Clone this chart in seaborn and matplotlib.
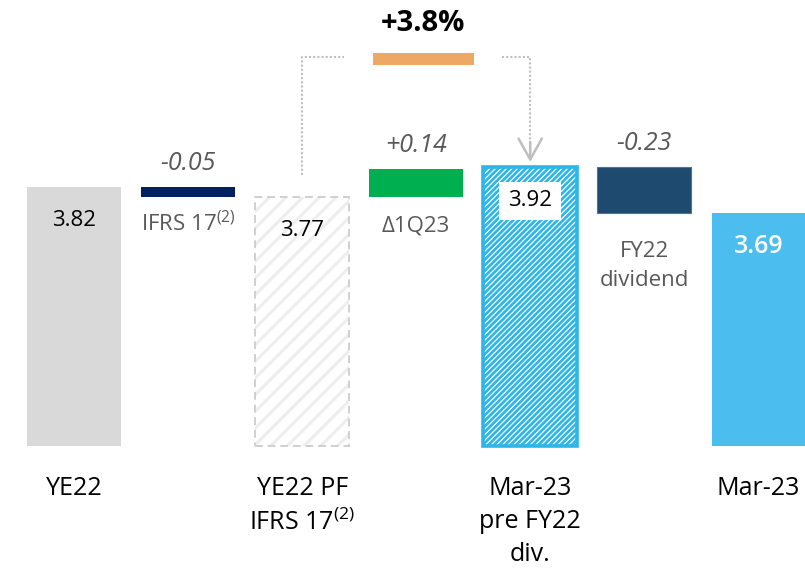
import matplotlib
matplotlib.use("Agg")
import matplotlib.pyplot as plt
import seaborn as sns

# ---- data -------------------------------------------------------------
categories = ["YE22", "IFRS 17", "YE22 PF", "Δ1Q23", "Mar-23 pre", "FY22 dividend", "Mar-23"]
kinds = ["total", "delta", "total", "delta", "total", "delta", "total"]
values = [3.82, -0.05, 3.77, 0.14, 3.92, -0.23, 3.69]
value_labels = ["3.82", "-0.05", "3.77", "+0.14", "3.92", "-0.23", "3.69"]
axis_labels = ["YE22", "", "YE22 PF\nIFRS 17$^{(2)}$", "", "Mar-23\npre FY22\ndiv.", "", "Mar-23"]
delta_names = ["", "IFRS 17$^{(2)}$", "", "Δ1Q23", "", "FY22\ndividend", ""]
growth_label = "+3.8%"
growth_from, growth_to = 2, 4

# ---- style ------------------------------------------------------------
sns.set_theme(style="white")
plt.rcParams["font.family"] = ["Open Sans", "DejaVu Sans"]
plt.rcParams["mathtext.fontset"] = "custom"
plt.rcParams["mathtext.rm"] = "Open Sans"
plt.rcParams["mathtext.it"] = "Open Sans:italic"
plt.rcParams["hatch.linewidth"] = 1.9

BASE = 2.525          # truncated value axis: bars start here
BAR_W = 0.82
GREY_TXT = "#595959"
DOT = "#BFBFBF"

fig = plt.figure(figsize=(8.05, 5.68), dpi=100)
ax = fig.add_axes([0, 0, 1, 1])


def bar(i, bottom, height, hatch_lw=None, **kw):
    n0 = len(ax.patches)
    sns.barplot(x=[categories[i]], y=[height], order=categories, bottom=bottom,
                width=BAR_W, errorbar=None, saturation=1, ax=ax, **kw)
    if hatch_lw is not None:
        for p in ax.patches[n0:]:
            if hasattr(p, "set_hatch_linewidth"):
                p.set_hatch_linewidth(hatch_lw)


# running total for the floating bars
running = None
tops, bottoms = [], []
for i, (kind, v) in enumerate(zip(kinds, values)):
    if kind == "total":
        lo, hi = BASE, v
        running = v
    else:
        lo, hi = running, running + v
        running = running + v
    bottoms.append(min(lo, hi))
    tops.append(max(lo, hi))

# YE22
bar(0, BASE, values[0] - BASE, color="#D9D9D9", linewidth=0)
# IFRS 17 adjustment
bar(1, values[0], values[1], color="#002060", linewidth=0)
# YE22 PF: light hatch with dashed outline
bar(2, BASE, values[2] - BASE, hatch_lw=2.2, color="white", facecolor="white",
    edgecolor="#EEEEEE", linewidth=0, hatch="//")
bar(2, BASE, values[2] - BASE, fill=False, color="#D0D0D0",
    linestyle=(0, (4, 2.5)), linewidth=1.4)
# 1Q23 change
bar(3, values[2], values[3], color="#00B050", linewidth=0)
# Mar-23 pre dividend: dense striped bar
bar(4, BASE, values[4] - BASE, hatch_lw=1.9, color="white", facecolor="white",
    edgecolor="#2BB6E9", linewidth=2.6, hatch="//////")
# FY22 dividend
bar(5, values[4], values[5], color="#1D4A6E", edgecolor="#4F7394", linewidth=0.8)
# Mar-23
bar(6, BASE, values[6] - BASE, color="#4BBDEE", linewidth=0)

# ---- labels -----------------------------------------------------------
for i, kind in enumerate(kinds):
    if kind == "total":
        style = dict(ha="center", va="center", fontsize=16, color="black")
        if i == 6:
            style.update(color="white", fontsize=18, fontweight="semibold")
        if i == 4:
            style.update(bbox=dict(boxstyle="square,pad=0.4", fc="white", ec="none"))
        ax.text(i, values[i] - 0.17, value_labels[i], **style)
        ax.text(i, BASE - 0.15, axis_labels[i], ha="center", va="top",
                fontsize=18, color="black", linespacing=1.42)
    else:
        ax.text(i, tops[i] + 0.115, value_labels[i], ha="center", va="center",
                fontsize=18, color=GREY_TXT, style="italic")

delta_gaps = {1: 0.07, 3: 0.095, 5: 0.14}
for i, gap in delta_gaps.items():
    ax.text(i, bottoms[i] - gap, delta_names[i], ha="center", va="top",
            fontsize=16, color=GREY_TXT, linespacing=1.5)

# ---- growth badge and connector --------------------------------------
level = max(values[growth_from], values[growth_to]) + 0.55
mid = (growth_from + growth_to) / 2 + 0.06
badge_w = 0.886
ax.bar(mid, 0.06, bottom=level - 0.04, width=badge_w, color="#EDA864", linewidth=0)
ax.text(mid, level + 0.165, growth_label, ha="center", va="center",
        fontsize=21, fontweight="bold", color="black")

dot_kw = dict(color=DOT, linewidth=1.5, linestyle=(0, (1, 1)), solid_capstyle="butt")
gap = 0.25
ax.plot([growth_from, growth_from, mid - badge_w / 2 - gap],
        [values[growth_from] + 0.11, level, level], **dot_kw)
tip = values[growth_to] + 0.025
ax.plot([mid + badge_w / 2 + gap, growth_to, growth_to],
        [level, level, tip + 0.02], **dot_kw)
ax.annotate("", xy=(growth_to, tip), xytext=(growth_to, tip + 0.1),
            arrowprops=dict(arrowstyle="->,head_length=0.75,head_width=0.42",
                            color=DOT, lw=1.8, mutation_scale=20,
                            shrinkA=0, shrinkB=0))

ax.set_xlim(-0.65, 6.41)
ax.set_ylim(3.92 - 401 / 200, 3.92 + 167 / 200)
ax.axis("off")

fig.savefig("out.png", dpi=100)
